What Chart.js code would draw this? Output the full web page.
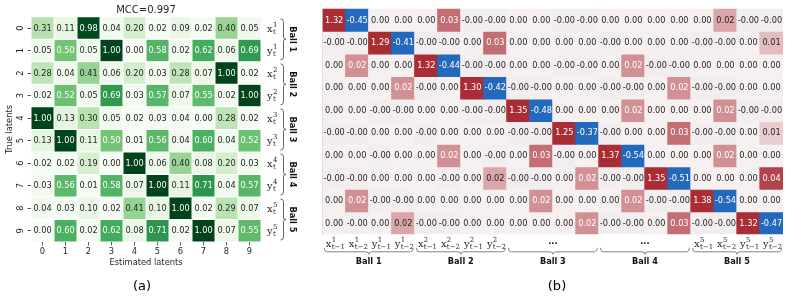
<!DOCTYPE html>
<html>
<head>
<meta charset="utf-8">
<script src="https://cdn.jsdelivr.net/npm/chart.js@4.4.1/dist/chart.umd.min.js"></script>
<style>
  html, body { margin: 0; padding: 0; background: #fff; }
  body { position: relative; width: 789px; height: 307px; overflow: hidden; }
  canvas { position: absolute; top: 0; }
  #mccChart { left: 0; }
  #coefChart { left: 310px; }
</style>
</head>
<body>
<canvas id="mccChart" width="310" height="307"></canvas>
<canvas id="coefChart" width="479" height="307"></canvas>
<script>
// Panel (a): |correlation| between true and estimated latents
const estLatents = ['0', '1', '2', '3', '4', '5', '6', '7', '8', '9'];
const trueLatents = ['0', '1', '2', '3', '4', '5', '6', '7', '8', '9'];
const latentVars = ['x', 'y', 'x', 'y', 'x', 'y', 'x', 'y', 'x', 'y'];
const latentBalls = ['1', '1', '2', '2', '3', '3', '4', '4', '5', '5'];
const ballNames = ['Ball 1', 'Ball 2', 'Ball 3', 'Ball 4', 'Ball 5'];
const mccScore = '0.997';

const mccRows = [
  [0.31, 0.11, 0.98, 0.04, 0.20, 0.02, 0.09, 0.02, 0.40, 0.05],
  [0.05, 0.50, 0.05, 1.00, 0.00, 0.58, 0.02, 0.62, 0.06, 0.69],
  [0.28, 0.04, 0.41, 0.06, 0.20, 0.03, 0.28, 0.07, 1.00, 0.02],
  [0.02, 0.52, 0.05, 0.69, 0.03, 0.57, 0.07, 0.55, 0.02, 1.00],
  [1.00, 0.13, 0.30, 0.05, 0.02, 0.03, 0.04, 0.00, 0.28, 0.02],
  [0.13, 1.00, 0.11, 0.50, 0.01, 0.56, 0.04, 0.60, 0.04, 0.52],
  [0.02, 0.02, 0.19, 0.00, 1.00, 0.06, 0.40, 0.08, 0.20, 0.03],
  [0.03, 0.56, 0.01, 0.58, 0.07, 1.00, 0.11, 0.71, 0.04, 0.57],
  [0.04, 0.03, 0.10, 0.02, 0.41, 0.10, 1.00, 0.02, 0.29, 0.07],
  [0.00, 0.60, 0.02, 0.62, 0.08, 0.71, 0.02, 1.00, 0.07, 0.55]
];

// Panel (b): learned transition coefficients (rows: latents, cols: lagged latents)
const lagBase = ['x', 'x', 'y', 'y', 'x', 'x', 'y', 'y', 'x', 'x', 'y', 'y', 'x', 'x', 'y', 'y', 'x', 'x', 'y', 'y'];
const lagBall = ['1', '1', '1', '1', '2', '2', '2', '2', '3', '3', '3', '3', '4', '4', '4', '4', '5', '5', '5', '5'];
const lagStep = ['t−1', 't−2', 't−1', 't−2', 't−1', 't−2', 't−1', 't−2', 't−1', 't−2',
  't−1', 't−2', 't−1', 't−2', 't−1', 't−2', 't−1', 't−2', 't−1', 't−2'];
const ballElided = [false, false, true, true, false];

// -0.001 prints as "-0.00"; 0.017 / 0.022 both print "0.02" (lighter / darker cell)
const coefRows = [
  [1.32, -0.45, 0, 0, 0, 0.03, -0.001, -0.001, 0, 0, -0.001, -0.001, 0, 0, 0, 0, 0, 0.017, -0.001, -0.001],
  [-0.001, -0.001, 1.29, -0.41, -0.001, -0.001, 0, 0.03, 0, 0, 0, 0, -0.001, 0, 0, 0, -0.001, -0.001, 0, 0.012],
  [0, 0.022, 0, 0, 1.32, -0.44, -0.001, -0.001, 0, 0, -0.001, -0.001, 0, 0.022, -0.001, -0.001, 0, 0, 0, 0],
  [0, 0, 0, 0.022, -0.001, 0, 1.30, -0.42, -0.001, -0.001, 0, 0, -0.001, -0.001, 0, 0.022, -0.001, -0.001, 0, 0],
  [0, 0, -0.001, -0.001, 0, 0, -0.001, -0.001, 1.35, -0.48, 0, 0, 0, 0.022, 0, 0, 0, 0.022, -0.001, -0.001],
  [-0.001, -0.001, 0, 0, -0.001, 0, 0, 0, -0.001, -0.001, 1.25, -0.37, -0.001, 0, 0, 0.03, -0.001, -0.001, 0, 0.008],
  [0, 0, -0.001, 0, 0, 0.022, 0, -0.001, 0, 0.03, -0.001, 0, 1.37, -0.54, 0, 0, 0, 0.022, 0, 0],
  [-0.001, -0.001, 0, 0, 0, -0.001, 0, 0.017, -0.001, -0.001, 0, 0.022, -0.001, -0.001, 1.35, -0.51, 0, 0, 0, 0.04],
  [0, 0.022, -0.001, -0.001, 0, 0, 0, 0, 0, 0.022, 0, 0, 0, 0.022, -0.001, -0.001, 1.38, -0.54, 0, 0],
  [0, -0.001, 0, 0.017, -0.001, -0.001, 0, 0, 0, 0, 0, 0.022, -0.001, -0.001, 0, 0.03, -0.001, -0.001, 1.32, -0.47]
];

Chart.defaults.font.family = '"DejaVu Sans", sans-serif';
Chart.defaults.color = '#262626';

const DARK = '#262626';

// matplotlib "Greens"
const greenStops = [
  [247, 252, 245], [229, 245, 224], [199, 233, 192], [161, 217, 155], [116, 196, 118],
  [65, 171, 93], [35, 139, 69], [0, 109, 44], [0, 68, 27]
];

const mix = (a, b, t) => a.map((v, i) => Math.round(v + (b[i] - v) * t));

const greens = (v) => {
  const t = Math.max(0, Math.min(1, v)) * (greenStops.length - 1);
  const i = Math.min(Math.floor(t), greenStops.length - 2);
  const c = mix(greenStops[i], greenStops[i + 1], t - i);
  return `rgb(${c[0]},${c[1]},${c[2]})`;
};

// vlag-like diverging map, clipped at +-0.045
const vlagMid = [247, 240, 240];
const vlagRed = [169, 45, 52];
const vlagBlue = [35, 105, 189];
const coefLimit = 0.045;

const vlag = (v) => {
  const t = Math.min(1, Math.abs(v) / coefLimit);
  const c = mix(vlagMid, v >= 0 ? vlagRed : vlagBlue, t);
  return `rgb(${c[0]},${c[1]},${c[2]})`;
};

// Cell annotations drawn on top of the stacked bars
const makeCellText = (font, textColor) => ({
  id: 'cellText',
  afterDatasetsDraw(chart) {
    const {ctx} = chart;
    ctx.save();
    ctx.font = font;
    ctx.textAlign = 'center';
    ctx.textBaseline = 'middle';
    chart.data.datasets.forEach((ds, r) => {
      chart.getDatasetMeta(r).data.forEach((bar, c) => {
        const v = ds.values[c];
        const {x, y, base} = bar.getProps(['x', 'y', 'base'], true);
        ctx.fillStyle = textColor(v);
        ctx.fillText(v.toFixed(2), x, (y + base) / 2 + 0.5);
      });
    });
    ctx.restore();
  }
});

const drawMath = (ctx, x, y, base, sup, sub, centered) => {
  ctx.font = '10px "DejaVu Serif"';
  const wb = ctx.measureText(base).width;
  ctx.font = '7px "DejaVu Serif"';
  const ws = Math.max(ctx.measureText(sup).width, ctx.measureText(sub).width);
  const x0 = centered ? x - (wb + ws) / 2 : x;
  ctx.textAlign = 'left';
  ctx.textBaseline = 'alphabetic';
  ctx.font = '10px "DejaVu Serif"';
  ctx.fillText(base, x0, y);
  ctx.font = '7px "DejaVu Serif"';
  ctx.fillText(sup, x0 + wb + 0.3, y - 4.8);
  ctx.fillText(sub, x0 + wb + 0.3, y + 2.2);
};

const mccDecor = {
  id: 'mccDecor',
  afterDraw(chart) {
    const {ctx, chartArea, scales: {y}} = chart;
    ctx.save();
    ctx.fillStyle = DARK;
    ctx.font = '10px "DejaVu Sans"';
    ctx.textAlign = 'center';
    ctx.textBaseline = 'middle';
    ctx.fillText('MCC=' + mccScore, (chartArea.left + chartArea.right) / 2, 10);

    trueLatents.forEach((_, r) => {
      const cy = y.getPixelForValue(r + 0.5);
      drawMath(ctx, chartArea.right + 6, cy + 3.5, latentVars[r], latentBalls[r], 't', false);
    });

    ctx.strokeStyle = '#555';
    ctx.lineWidth = 0.9;
    ballNames.forEach((name, k) => {
      const y0 = y.getPixelForValue(2 * k) + 2;
      const y1 = y.getPixelForValue(2 * k + 2) - 2;
      const yc = (y0 + y1) / 2;
      const bx = chartArea.right + 22.5;
      ctx.beginPath();
      ctx.moveTo(bx - 3, y0);
      ctx.quadraticCurveTo(bx, y0, bx, y0 + 3);
      ctx.lineTo(bx, yc - 2);
      ctx.quadraticCurveTo(bx, yc, bx + 2.5, yc);
      ctx.quadraticCurveTo(bx, yc, bx, yc + 2);
      ctx.lineTo(bx, y1 - 3);
      ctx.quadraticCurveTo(bx, y1, bx - 3, y1);
      ctx.stroke();

      ctx.save();
      ctx.translate(chartArea.right + 31.5, yc);
      ctx.rotate(Math.PI / 2);
      ctx.font = 'bold 8.2px "DejaVu Sans"';
      ctx.textAlign = 'center';
      ctx.textBaseline = 'middle';
      ctx.fillStyle = '#111';
      ctx.fillText(name, 0, 0);
      ctx.restore();
    });

    ctx.fillStyle = '#000';
    ctx.font = '13px "DejaVu Sans"';
    ctx.textAlign = 'center';
    ctx.textBaseline = 'middle';
    ctx.fillText('(a)', 142, 287);
    ctx.restore();
  }
};

const coefDecor = {
  id: 'coefDecor',
  afterDraw(chart) {
    const {ctx, chartArea, scales: {x}} = chart;
    ctx.save();
    ctx.fillStyle = DARK;
    ctx.strokeStyle = '#777';
    ctx.lineWidth = 0.9;
    const half = (x.getPixelForValue(1) - x.getPixelForValue(0)) / 2;

    lagBase.forEach((base, c) => {
      if (ballElided[Math.floor(c / 4)]) return;
      drawMath(ctx, x.getPixelForValue(c) + 1, chartArea.bottom + 12.7, base, lagBall[c], lagStep[c], true);
    });

    ballNames.forEach((name, k) => {
      const x0 = x.getPixelForValue(4 * k) - half + 1.5;
      const x1 = x.getPixelForValue(4 * k + 3) + half - 1.5;
      const xc = (x0 + x1) / 2;
      const by = chartArea.bottom + 17.5;
      ctx.beginPath();
      ctx.moveTo(x0, by - 4);
      ctx.quadraticCurveTo(x0, by, x0 + 3, by);
      ctx.lineTo(xc - 3, by);
      ctx.quadraticCurveTo(xc, by, xc, by + 2.5);
      ctx.quadraticCurveTo(xc, by, xc + 3, by);
      ctx.lineTo(x1 - 3, by);
      ctx.quadraticCurveTo(x1, by, x1, by - 4);
      ctx.stroke();

      ctx.textAlign = 'center';
      ctx.textBaseline = 'middle';
      ctx.font = 'bold 8.2px "DejaVu Sans"';
      ctx.fillStyle = '#111';
      if (ballElided[k]) {
        ctx.fillText('...', xc, chartArea.bottom + 8);
      }
      ctx.fillText(name, xc, chartArea.bottom + 27.2);
      ctx.fillStyle = DARK;
    });

    ctx.fillStyle = '#000';
    ctx.font = '13px "DejaVu Sans"';
    ctx.textAlign = 'center';
    ctx.textBaseline = 'middle';
    ctx.fillText('(b)', 247, 287);
    ctx.restore();
  }
};

const cellDataset = (values, colorFn, label, border, borderWidth, inflate) => ({
  label,
  data: values.map(() => 1),
  values,
  backgroundColor: values.map(colorFn),
  borderColor: border,
  borderWidth,
  borderSkipped: false,
  inflateAmount: inflate,
  barPercentage: 1,
  categoryPercentage: 1
});

const axisFont = {family: '"DejaVu Sans"', size: 8.3};

// Left heatmap
new Chart(document.getElementById('mccChart'), {
  type: 'bar',
  data: {
    labels: estLatents,
    datasets: mccRows.map((row, r) => cellDataset(row, greens, trueLatents[r], '#ffffff', 0.5, 0))
  },
  options: {
    responsive: false,
    animation: false,
    events: [],
    layout: {padding: {top: 16.75, right: 49, bottom: 35, left: 0}},
    plugins: {legend: {display: false}, tooltip: {enabled: false}},
    scales: {
      x: {
        stacked: true,
        offset: true,
        grid: {offset: false, drawOnChartArea: false, tickLength: 3.5, color: '#333', lineWidth: 0.8},
        border: {display: false},
        ticks: {padding: 1, maxRotation: 0, font: axisFont, color: DARK},
        title: {display: true, text: 'Estimated latents', font: axisFont, color: DARK, padding: {top: 0, bottom: 4}},
        afterFit: (axis) => { axis.height = 30; }
      },
      y: {
        type: 'linear',
        stacked: true,
        min: 0,
        max: trueLatents.length,
        reverse: true,
        afterBuildTicks: (axis) => { axis.ticks = trueLatents.map((_, i) => ({value: i + 0.5})); },
        afterFit: (axis) => { axis.width = 31; },
        grid: {drawOnChartArea: false, tickLength: 3.5, color: '#333', lineWidth: 0.8},
        border: {display: false},
        ticks: {
          callback: (v) => trueLatents[Math.floor(v)],
          minRotation: 90,
          maxRotation: 90,
          crossAlign: 'center',
          padding: 4,
          font: axisFont,
          color: DARK
        },
        title: {display: true, text: 'True latents', font: axisFont, color: DARK, padding: {top: 5, bottom: 0}}
      }
    }
  },
  plugins: [makeCellText('8.2px "DejaVu Sans"', (v) => (v >= 0.45 ? '#ffffff' : DARK)), mccDecor]
});

// Right heatmap
new Chart(document.getElementById('coefChart'), {
  type: 'bar',
  data: {
    labels: lagBase.map((b, i) => b + lagBall[i] + '_' + lagStep[i]),
    datasets: coefRows.map((row, r) => cellDataset(row, vlag, 'row ' + r, 'rgba(0,0,0,0)', 0, 0.6))
  },
  options: {
    responsive: false,
    animation: false,
    events: [],
    layout: {padding: {top: 8.7, right: 6, bottom: 72.7, left: 12.7}},
    plugins: {legend: {display: false}, tooltip: {enabled: false}},
    scales: {
      x: {stacked: true, display: false},
      y: {
        type: 'linear',
        stacked: true,
        min: 0,
        max: coefRows.length,
        reverse: true,
        ticks: {display: false},
        grid: {display: false},
        border: {display: true, color: '#d6d6d6', width: 1},
        afterFit: (axis) => { axis.width = 0; }
      }
    }
  },
  plugins: [makeCellText('8.2px "DejaVu Sans"', (v) => (Math.abs(v) / coefLimit >= 0.45 ? '#ffffff' : DARK)), coefDecor]
});
</script>
</body>
</html>
